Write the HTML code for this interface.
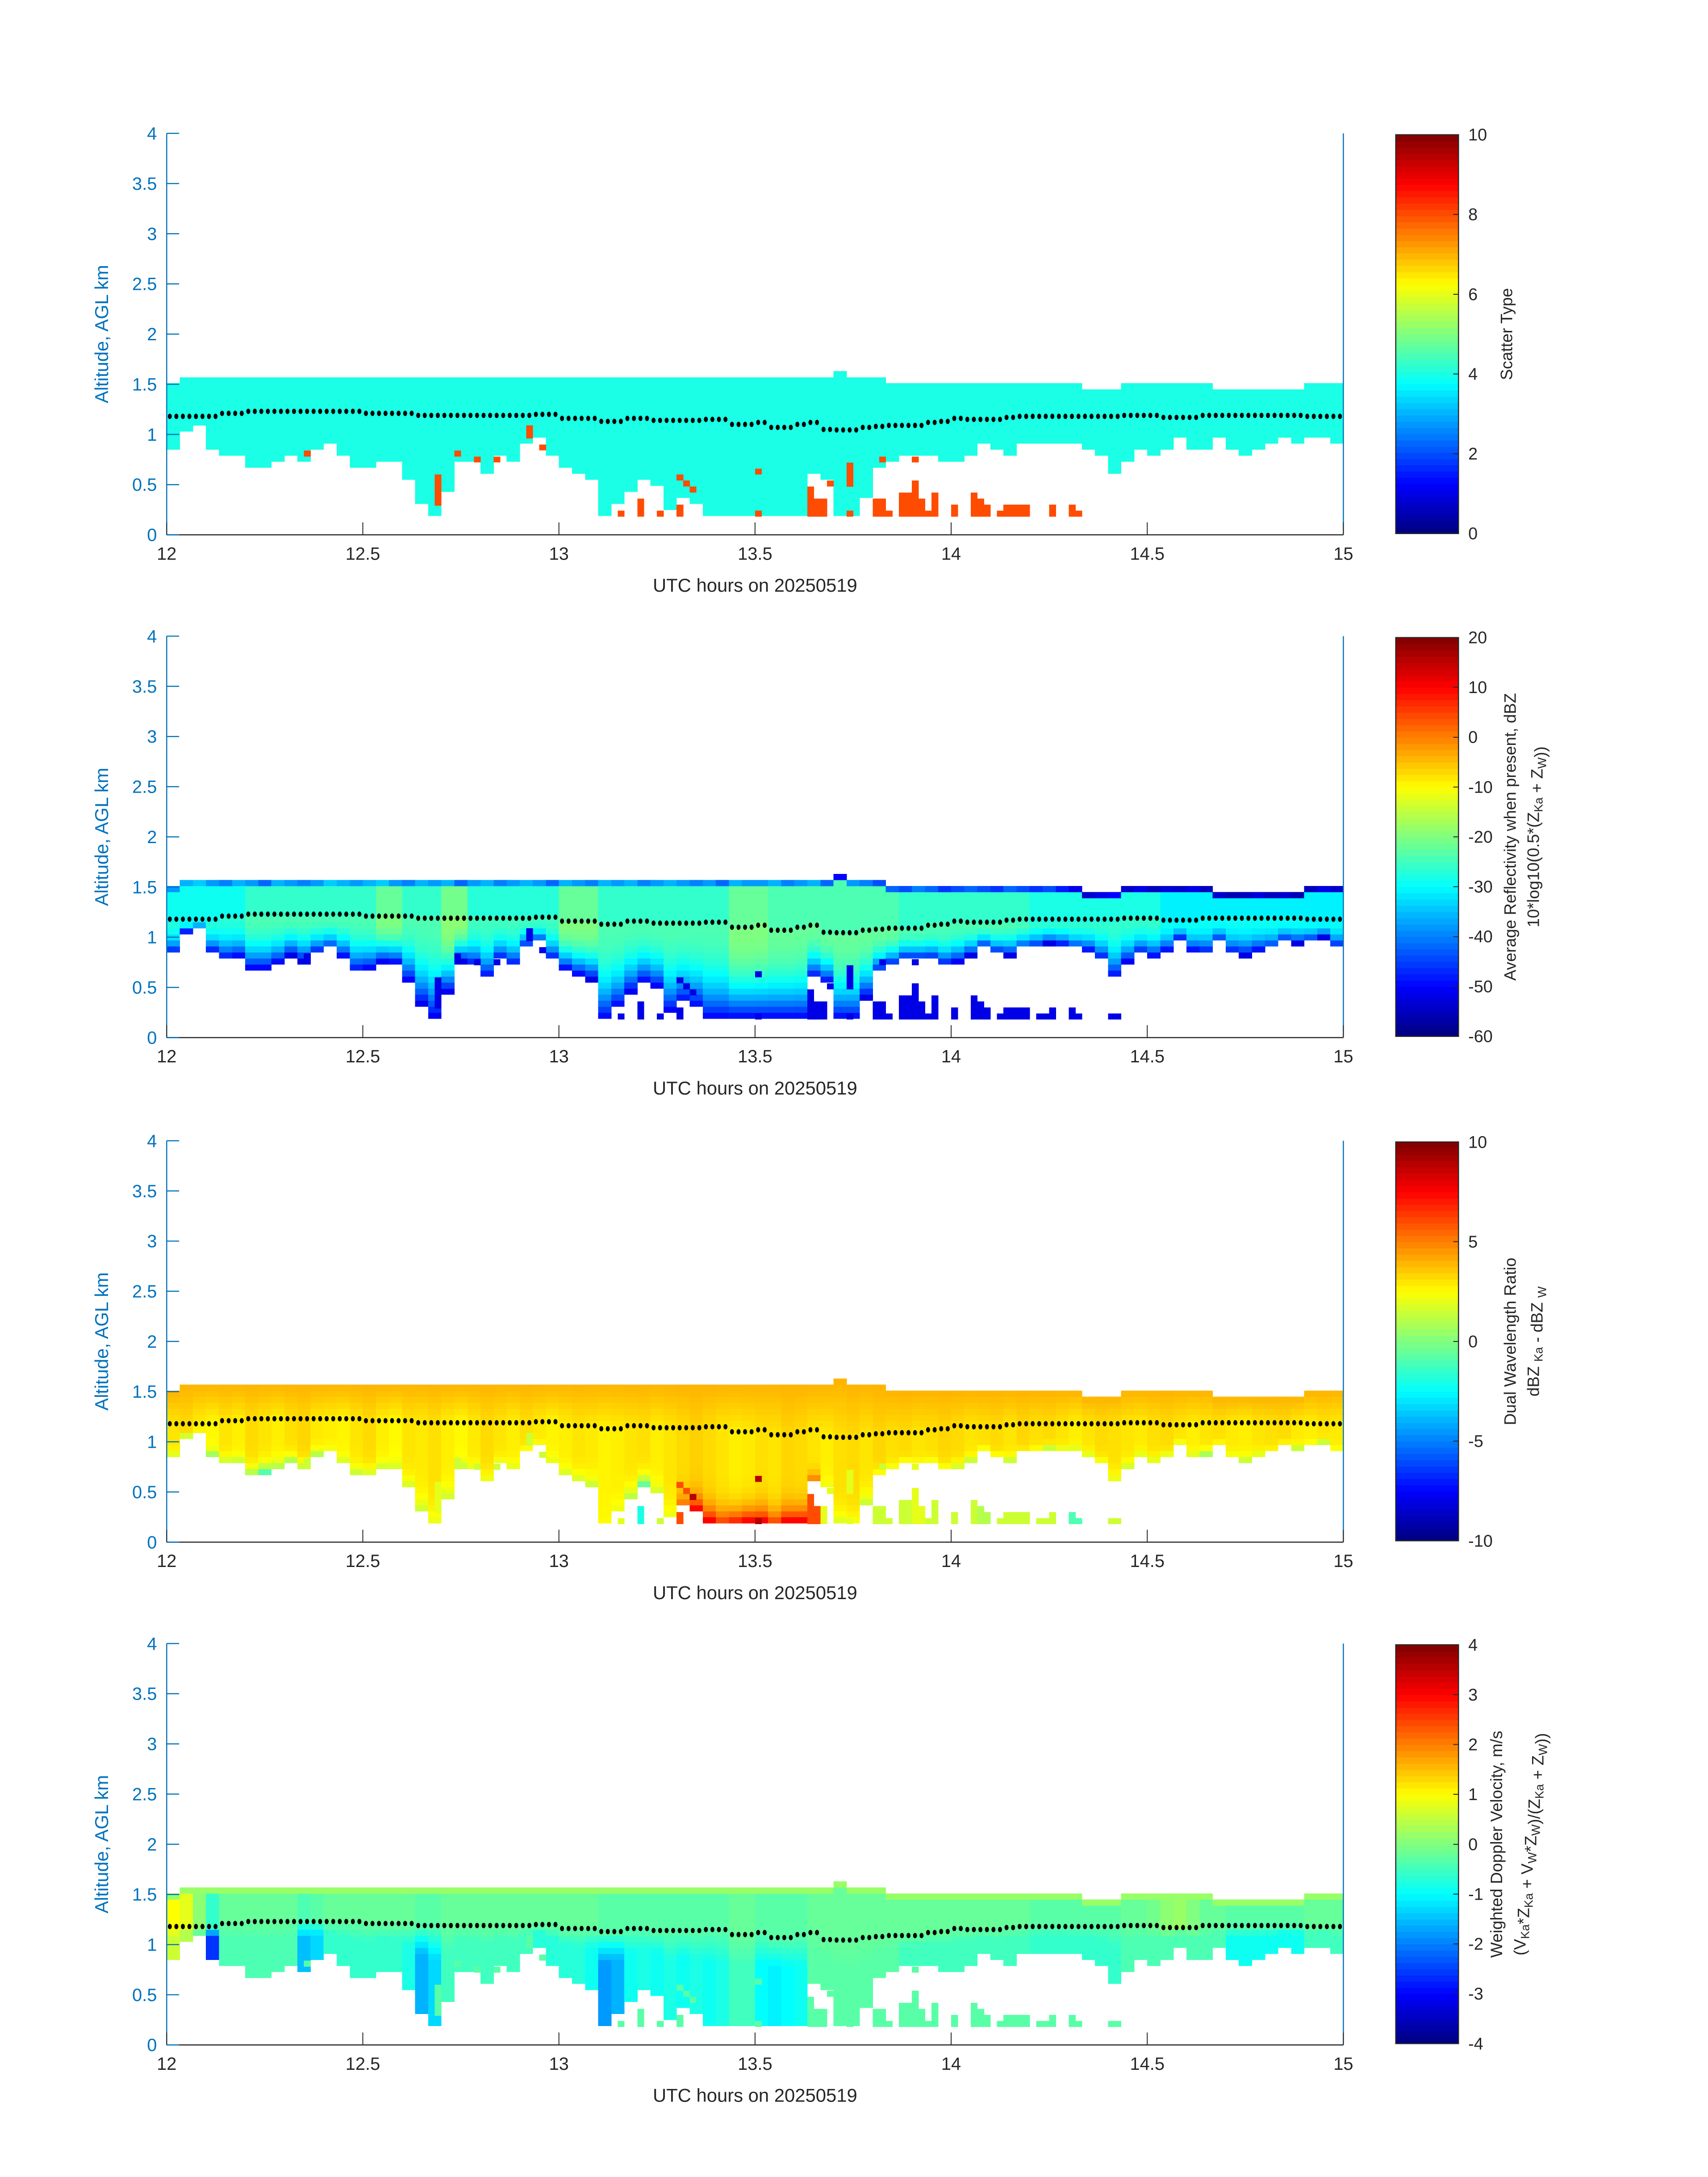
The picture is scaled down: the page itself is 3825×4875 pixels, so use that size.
<!DOCTYPE html>
<html><head><meta charset="utf-8">
<style>
html,body{margin:0;padding:0;background:#fff;}
svg{display:block;font-family:"Liberation Sans","DejaVu Sans",sans-serif;}
</style></head>
<body>
<svg id="fig" xmlns="http://www.w3.org/2000/svg" width="3825" height="4875" viewBox="0 0 3825 4875"><g id="root" transform="scale(0.9955)"></g></svg>
<script>
// ---- data (2-minute columns, 12:00-15:00 UTC) ----
const cloudBottom = [0.84,1.05,1.09,0.85,0.78,0.8,0.68,0.68,0.74,0.82,0.76,0.84,0.88,0.8,0.66,0.68,0.75,0.74,0.56,0.33,0.2,0.45,0.76,0.72,0.6,0.78,0.72,0.9,0.95,0.78,0.68,0.62,0.58,0.18,0.3,0.45,0.55,0.5,0.25,0.35,0.3,0.18,0.18,0.18,0.18,
 0.18,0.18,0.18,0.18,0.6,0.55,0.18,0.18,0.4,0.65,0.72,0.78,0.78,0.78,0.72,0.75,0.82,0.9,0.84,0.82,0.88,0.9,0.94,0.92,0.88,0.86,0.78,0.6,0.75,0.84,0.8,0.86,0.98,0.86,0.84,0.96,0.84,0.82,0.86,0.88,0.96,0.94,0.96,1.0,0.9];
const cloudTop = [1.51,1.57,1.57,1.57,1.57,1.57,1.57,1.57,1.57,1.57,1.57,1.57,1.57,1.57,1.57,1.57,1.57,1.57,1.57,1.57,1.57,1.57,1.57,1.57,1.57,1.57,1.57,1.57,1.57,1.57,1.57,1.57,1.57,1.57,1.57,1.57,1.57,1.57,1.57,1.57,1.57,1.57,1.57,1.57,1.57,
 1.57,1.57,1.57,1.57,1.57,1.57,1.63,1.57,1.57,1.57,1.51,1.51,1.51,1.51,1.51,1.51,1.51,1.51,1.51,1.51,1.51,1.51,1.51,1.51,1.51,1.45,1.45,1.45,1.51,1.51,1.51,1.51,1.51,1.51,1.51,1.45,1.45,1.45,1.45,1.45,1.45,1.45,1.51,1.51,1.51];
const baseLine = [1.18,1.18,1.18,1.18,1.21,1.21,1.23,1.23,1.23,1.23,1.23,1.23,1.23,1.23,1.23,1.21,1.21,1.21,1.21,1.19,1.19,1.19,1.19,1.19,1.19,1.19,1.19,1.19,1.2,1.2,1.16,1.16,1.16,1.13,1.13,1.16,1.16,1.14,1.14,1.14,1.14,1.15,1.15,1.1,1.1,
 1.12,1.07,1.07,1.1,1.12,1.05,1.045,1.045,1.07,1.08,1.09,1.09,1.09,1.12,1.13,1.16,1.15,1.15,1.15,1.17,1.18,1.18,1.18,1.18,1.18,1.18,1.18,1.18,1.19,1.19,1.19,1.17,1.17,1.17,1.19,1.19,1.19,1.19,1.19,1.19,1.19,1.19,1.18,1.18,1.18];
// isolated 1-minute cells [minute, low km, high km]
const lowCells = [[21,0.78,0.84],[41,0.29,0.6],[44,0.78,0.84],[47,0.72,0.78],[50,0.72,0.78],[55,0.96,1.09],[57,0.84,0.9],[69,0.18,0.24],[72,0.18,0.36],[75,0.18,0.24],[78,0.18,0.3],[78,0.54,0.6],[79,0.48,0.54],[80,0.42,0.48],[90,0.18,0.24],[90,0.6,0.66],[98,0.18,0.48],[99,0.18,0.36],[100,0.18,0.36],[101,0.48,0.54],[104,0.18,0.24],[104,0.48,0.72],[108,0.18,0.36],[109,0.18,0.36],[109,0.72,0.78],[110,0.18,0.24],[112,0.18,0.42],[113,0.18,0.42],[114,0.18,0.54],[114,0.72,0.78],[115,0.18,0.36],[116,0.18,0.24],[117,0.18,0.42],[120,0.18,0.3],[123,0.18,0.42],[124,0.18,0.36],[125,0.18,0.3],[127,0.18,0.24],[128,0.18,0.3],[129,0.18,0.3],[130,0.18,0.3],[131,0.18,0.3],[135,0.18,0.3],[138,0.18,0.3],[139,0.18,0.24]];
const extraLowCells = [[133,0.18,0.24],[134,0.18,0.24],[144,0.18,0.24],[145,0.18,0.24]];
// panel 2: reflectivity dBZ
const reflCore = [-27,-27,-27,-27,-27,-27,-24,-24,-24,-24,-24,-24,-24,-24,-24,-24,-20,-20,-24,-24,-24,-19,-19,-25,-25,-25,-25,-25,-25,-25,-20,-20,-20,-24,-24,-24,-24,-24,-24,-24,-24,-24,-24,-20,-20,
 -20,-22,-22,-22,-22,-22,-22,-22,-22,-22,-22,-24,-24,-24,-24,-24,-24,-24,-24,-24,-24,-26,-26,-26,-26,-26,-26,-26,-26,-26,-26,-29,-29,-29,-29,-29,-29,-29,-29,-29,-29,-29,-29,-29,-29];
const reflTop = [-38,-36,-34,-38,-40,-36,-38,-42,-36,-38,-40,-38,-34,-36,-38,-36,-34,-38,-40,-36,-38,-36,-42,-38,-36,-40,-38,-36,-38,-42,-36,-38,-40,-36,-38,-36,-40,-38,-36,-38,-40,-38,-42,-36,-38,
 -38,-36,-40,-38,-36,-42,-50,-38,-40,-44,-42,-44,-40,-42,-46,-44,-42,-44,-46,-42,-44,-46,-44,-48,-52,-54,-52,-50,-54,-52,-55,-53,-54,-52,-55,-54,-56,-55,-53,-55,-54,-56,-55,-52,-54];
const reflBase = -52;
// panel 3: dual wavelength ratio dB
const dfrCore = [3.0,3.2,2.8,2.6,3.0,2.8,3.2,3.0,2.8,3.1,3.3,2.9,2.8,2.7,3.0,3.2,2.8,2.6,3.0,2.9,3.1,2.8,2.6,2.9,3.2,3.0,2.8,3.1,2.9,2.7,2.8,3.0,2.9,2.7,2.8,3.0,3.1,2.8,3.0,3.2,3.4,3.2,3.0,2.8,2.9,
 3.1,3.0,3.3,3.2,3.0,2.8,3.1,3.2,3.0,3.3,3.1,3.2,3.0,3.1,3.3,3.2,3.0,3.1,3.2,3.0,3.3,3.1,3.2,3.0,2.8,3.0,3.2,3.1,3.0,2.9,3.1,3.2,3.0,2.8,3.0,3.1,2.9,2.8,3.0,3.1,3.2,2.9,2.8,3.0,2.9];
const dfrTop = 4.0;
const dfrBottom = [0.5,0.5,0.5,-1,0.5,1,0.5,-2,0.5,1,1.5,-1,1,1.5,0.5,1.5,1.5,1.5,1.5,1.5,2,1.5,1.5,1.5,1.5,1.5,1.5,1.5,1.5,1.5,1.5,1.5,1.5,2.5,2,1,-2,1.5,2,6,9,9,7,8,9,9,7,9,9,6,2,1.5,2,1.5,1.5,1.5,1.5,2,1.5,1.5,1.5,1.5,1,1.5,1.5,1.5,1.5,1.5,1.5,-1,1.5,1.5,1.5,1.5,1,1.5,1.5,1.5,1.5,-2,1.5,1.5,1.5,1.5,1.5,1.5,1.5,1.5,1.5,1.5];
// panel 4: weighted Doppler velocity m/s (below cloud-base line)
const velCore = [0.6,0.4,-0.2,-2.6,-0.4,-0.4,-0.4,-0.4,-0.4,-0.4,-1.5,-1.3,-0.6,-0.6,-0.6,-0.6,-0.6,-0.6,-0.8,-1.6,-1.3,-0.5,-0.5,-0.5,-0.5,-0.5,-0.5,-0.5,-0.7,-0.7,-0.7,-0.7,-0.9,-1.8,-1.6,-0.9,-0.8,-0.9,-0.8,-0.9,-0.8,-0.9,-0.8,-0.5,-0.5,
 -1.0,-1.1,-1.0,-0.9,-0.3,-0.3,-0.3,-0.3,-0.3,-0.3,-0.3,-0.5,-0.5,-0.5,-0.5,-0.5,-0.5,-0.5,-0.5,-0.5,-0.5,-0.6,-0.6,-0.6,-0.6,-0.6,-0.6,-0.6,-0.4,-0.4,-0.4,-0.4,-0.4,-0.4,-0.4,-0.4,-0.9,-0.9,-0.9,-0.9,-0.9,-0.9,-0.5,-0.5,-0.5];
const velAbove = [1.0,0.8,0.1,-0.6,-0.2,-0.2,-0.2,-0.2,-0.2,-0.2,-0.4,-0.3,-0.2,-0.2,-0.2,-0.2,-0.2,-0.2,-0.2,-0.3,-0.3,-0.2,-0.2,-0.2,-0.2,-0.2,-0.2,-0.2,-0.2,-0.2,-0.2,-0.2,-0.2,-0.3,-0.3,-0.3,-0.3,-0.3,-0.3,-0.3,-0.3,-0.3,-0.3,-0.2,-0.2,
 -0.3,-0.3,-0.3,-0.3,-0.2,-0.2,-0.2,-0.2,-0.2,-0.2,-0.2,-0.2,-0.2,-0.2,-0.2,-0.2,-0.2,-0.2,-0.2,-0.2,-0.2,-0.3,-0.3,-0.3,-0.3,-0.3,-0.3,-0.3,-0.2,-0.2,-0.1,0.1,0.2,0.0,-0.2,-0.2,-0.3,-0.3,-0.3,-0.3,-0.3,-0.3,-0.2,-0.2,-0.2];
const velTop = 0.2;
const velBottom = -0.3;
const yTicks = [0,0.5,1,1.5,2,2.5,3,3.5,4];
const yTickLabels = ["0","0.5","1","1.5","2","2.5","3","3.5","4"];
const xTicks = [12,12.5,13,13.5,14,14.5,15];
const xTickLabels = ["12","12.5","13","13.5","14","14.5","15"];

// ---- layout ----
const NS="http://www.w3.org/2000/svg";
const svg=document.getElementById('root');
const xL=375,xR=3022,W=xR-xL,H=903;
const panelTops=[300,1431,2566,3697];
const cbL=3140,cbR=3281;
function jet(t){t=Math.max(0,Math.min(1,t));const c=v=>Math.round(255*Math.max(0,Math.min(1,v)));
 return `rgb(${c(1.5-Math.abs(4*t-3))},${c(1.5-Math.abs(4*t-2))},${c(1.5-Math.abs(4*t-1))})`;}
function el(tag,attrs,parent){const e=document.createElementNS(NS,tag);for(const k in attrs)e.setAttribute(k,attrs[k]);(parent||svg).appendChild(e);return e;}
const xMin=m=>xL+m/180*W;
const xHour=h=>xL+(h-12)/3*W;

const panels=[
 {name:'scatter-type',vmin:0,vmax:10,cbt:[0,2,4,6,8,10],lx:[3402],label:[["Scatter Type"]]},
 {name:'reflectivity',vmin:-60,vmax:20,cbt:[-60,-50,-40,-30,-20,-10,0,10,20],lx:[3410,3462],label:[["Average Reflectivity when present, dBZ"],["10*log10(0.5*(Z",["Ka","sub"]," + Z",["W","sub"],"))"]]},
 {name:'dual-wavelength-ratio',vmin:-10,vmax:10,cbt:[-10,-5,0,5,10],lx:[3410,3462],label:[["Dual Wavelength Ratio"],["dBZ ",["Ka","sub"]," - dBZ ",["W","sub"]]]},
 {name:'doppler-velocity',vmin:-4,vmax:4,cbt:[-4,-3,-2,-1,0,1,2,3,4],lx:[3379,3432],label:[["Weighted Doppler Velocity, m/s"],["(V",["Ka","sub"],"*Z",["Ka","sub"]," + V",["W","sub"],"*Z",["W","sub"],")/(Z",["Ka","sub"]," + Z",["W","sub"],"))"]]}
];

function cellValue(p,c,alt,isTopRow){
 const dot=baseLine[c],bot=cloudBottom[c],top=cloudTop[c];
 if(p===0) return 4;
 if(p===1){ if(isTopRow) return reflTop[c]; if(alt>=dot) return reflCore[c]-2;
   const t=Math.min(1,(dot-alt)/Math.max(0.06,dot-bot)); return reflCore[c]+(reflBase-reflCore[c])*Math.pow(t,2.5);}
 if(p===2){ if(alt>=dot){const t=(alt-dot)/Math.max(0.06,top-dot);return dfrCore[c]+(dfrTop-dfrCore[c])*t;}
   const t=Math.min(1,(dot-alt)/Math.max(0.06,dot-bot)); return dfrCore[c]+(dfrBottom[c]-dfrCore[c])*Math.pow(t,7);}
 if(isTopRow) return velTop;
 if(alt>=dot) return velAbove[c];
 const t=Math.min(1,(dot-alt)/Math.max(0.06,dot-bot));
 return velAbove[c]+(velCore[c]-velAbove[c])*Math.min(1,t*3);
}
function lowValue(p,m,lo){
 if(p===0) return 8;
 if(p===1) return -52;
 if(p===2){const c=Math.min(89,Math.floor(m/2));return dfrBottom[c];}
 return velBottom;
}

panels.forEach((P,p)=>{
 const top=panelTops[p];
 const Y=a=>top+H*(1-a/4);
 const g=el('g',{});
 
 
 const col=v=>jet((v-P.vmin)/(P.vmax-P.vmin));
 const cells=el('g',{'shape-rendering':'crispEdges'},g);
 
 
 for(let c=0;c<90;c++){
  for(let k=0;k<25;k++){
   const lo=0.19+0.06*k,hi=lo+0.06,ctr=lo+0.03;
   if(ctr<cloudBottom[c]||hi>cloudTop[c]+0.001) continue;
   const isTop=hi>cloudTop[c]-0.001;
   const r=el('rect',{x:xMin(2*c).toFixed(1),y:Y(hi).toFixed(1),width:(xMin(2*c+2)-xMin(2*c)+0.6).toFixed(1),height:(Y(lo)-Y(hi)+0.6).toFixed(1),fill:col(cellValue(p,c,ctr,isTop))},cells);
   
   
  }
 }
 const extra=p===0?lowCells:lowCells.concat(extraLowCells);
 extra.forEach(([m,lo,hi])=>{
  const r=el('rect',{x:xMin(m).toFixed(1),y:Y(hi).toFixed(1),width:(xMin(m+1)-xMin(m)+0.6).toFixed(1),height:(Y(lo)-Y(hi)).toFixed(1),fill:col(lowValue(p,m,lo))},cells);
  
  
 });
 const dots=el('g',{fill:'#000'},g);
 
 
 for(let m=0;m<180;m++){
  const d=el('ellipse',{cx:(xMin(m)+7).toFixed(1),cy:Y(baseLine[Math.floor(m/2)]).toFixed(1),rx:4.5,ry:6},dots);
  
  
 }
 const ax=el('g',{},g);
 
 
 const la=el('line',{x1:xL,y1:top,x2:xL,y2:top+H,stroke:'#0072BD','stroke-width':2.5},ax);
 
 const ra=el('line',{x1:xR,y1:top,x2:xR,y2:top+H,stroke:'#0072BD','stroke-width':2.5},ax);
 
 const ba=el('line',{x1:xL,y1:top+H,x2:xR,y2:top+H,stroke:'#262626','stroke-width':2.5},ax);
 
 yTicks.forEach((v,i)=>{
  el('line',{x1:xL,y1:Y(v),x2:xL+28,y2:Y(v),stroke:'#0072BD','stroke-width':2.5},ax);
  const t=el('text',{x:xL-22,y:Y(v)+14,'text-anchor':'end','font-size':40,fill:'#0072BD'},ax);
  t.textContent=yTickLabels[i];
  
  
 });
 xTicks.forEach((v,i)=>{
  el('line',{x1:xHour(v),y1:top+H,x2:xHour(v),y2:top+H-28,stroke:'#262626','stroke-width':2},ax);
  const t=el('text',{x:xHour(v),y:top+H+56,'text-anchor':'middle','font-size':40,fill:'#262626'},ax);
  t.textContent=xTickLabels[i];
  
  
 });
 const yl=el('text',{x:0,y:0,transform:`translate(243,${top+H/2}) rotate(-90)`,'text-anchor':'middle','font-size':42,fill:'#0072BD'},g);
 yl.textContent='Altitude, AGL km';
 
 
 const xl=el('text',{x:(xL+xR)/2,y:top+H+128,'text-anchor':'middle','font-size':42,fill:'#262626'},g);
 xl.textContent='UTC hours on 20250519';
 
 
 const cb=el('g',{'shape-rendering':'crispEdges'},g);
 
 
 const cT=top+3,cH=H-6,N=64;
 for(let i=0;i<N;i++){
  el('rect',{x:cbL,y:(cT+cH*(1-(i+1)/N)).toFixed(1),width:cbR-cbL,height:(cH/N+1).toFixed(1),fill:jet((i+0.5)/N)},cb);
 }
 el('rect',{x:cbL,y:cT,width:cbR-cbL,height:cH,fill:'none',stroke:'#262626','stroke-width':2.5},cb);
 P.cbt.forEach(v=>{
  const yy=cT+cH*(1-(v-P.vmin)/(P.vmax-P.vmin));
  el('line',{x1:cbR-12,y1:yy,x2:cbR,y2:yy,stroke:'#262626','stroke-width':2},cb);
  const t=el('text',{x:cbR+22,y:yy+13,'font-size':38,fill:'#262626'},cb);
  t.textContent=String(v);
  
  
 });
 P.label.forEach((line,li)=>{
  const cx=P.lx[li];
  const t=el('text',{x:0,y:0,transform:`translate(${cx},${top+H/2}) rotate(-90)`,'text-anchor':'middle','font-size':37,fill:'#262626'},g);
  
  
  line.forEach(part=>{
   if(typeof part==='string'){const s=el('tspan',{},t);s.textContent=part;}
   else{const s=el('tspan',{'font-size':27,dy:8},t);s.textContent=part[0];const r=el('tspan',{dy:-8},t);r.textContent='';}
  });
 });
});
</script>
</body></html>
